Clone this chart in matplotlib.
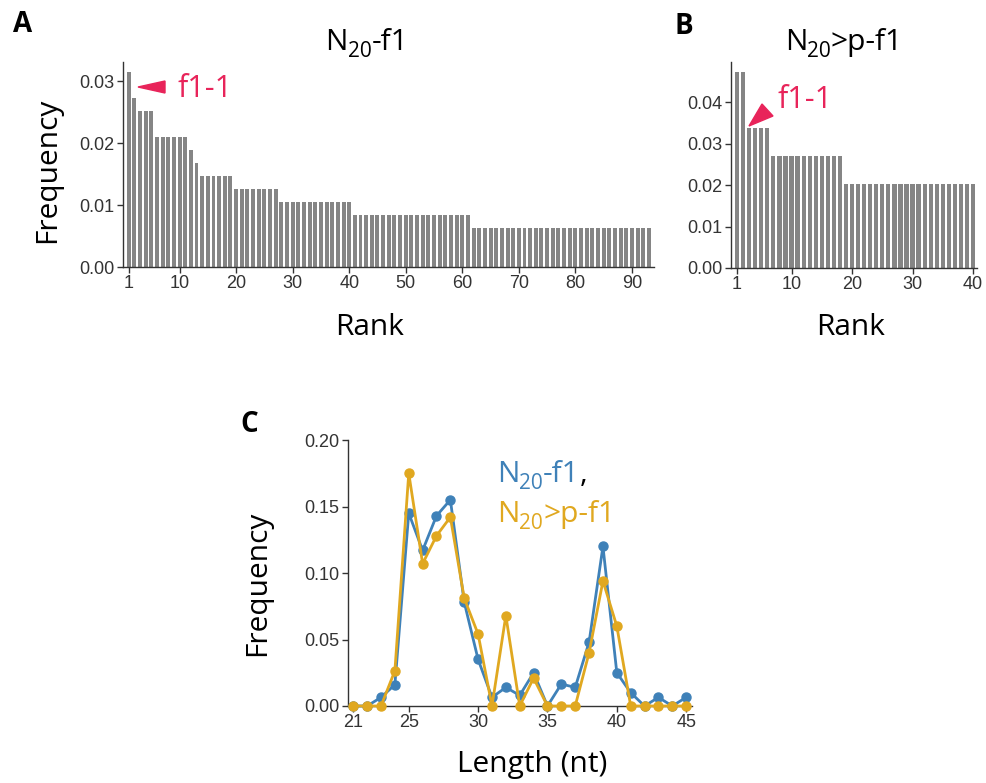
import matplotlib
matplotlib.use("Agg")
import matplotlib.pyplot as plt
from matplotlib.patches import Polygon
import numpy as np

# ---------------- data ----------------
# Panel A: N20-f1 rank-frequency (93 sequences)
rank_a_counts = [15, 13] + [12] * 3 + [10] * 6 + [9, 8] + [7] * 6 + [6] * 8 + [5] * 13 + [4] * 21 + [3] * 32
freq_a = [c / 476 for c in rank_a_counts]
rank_a = list(range(1, len(freq_a) + 1))
xticks_a = [1, 10, 20, 30, 40, 50, 60, 70, 80, 90]
yticks_a = [0.00, 0.01, 0.02, 0.03]

# Panel B: N20>p-f1 rank-frequency (40 sequences)
rank_b_counts = [7] * 2 + [5] * 4 + [4] * 12 + [3] * 22
freq_b = [c / 148 for c in rank_b_counts]
rank_b = list(range(1, len(freq_b) + 1))
xticks_b = [1, 10, 20, 30, 40]
yticks_b = [0.00, 0.01, 0.02, 0.03, 0.04]

# Panel C: length distribution
length_nt = list(range(21, 46))
freq_len_f1 = [0, 0, 0.0065, 0.016, 0.145, 0.117, 0.143, 0.155, 0.078, 0.035,
               0.0065, 0.014, 0.008, 0.025, 0, 0.0165, 0.014, 0.048, 0.120, 0.025,
               0.010, 0, 0.0065, 0, 0.0065]
freq_len_pf1 = [0, 0, 0, 0.0265, 0.175, 0.107, 0.128, 0.142, 0.081, 0.054,
                0, 0.068, 0, 0.021, 0, 0, 0, 0.040, 0.094, 0.060,
                0, 0, 0, 0, 0]
xticks_c = [21, 25, 30, 35, 40, 45]
yticks_c = [0.00, 0.05, 0.10, 0.15, 0.20]

# ---------------- style ----------------
W, H = 986, 783
BAR = "#858585"
BLUE = "#3F81B8"
GOLD = "#E0A820"
RED = "#E8245A"
TICKC = "#333333"
TICKFONT = "Liberation Sans"
LABFONT = "Open Sans"
BIG = 21.5
SUB = 15

plt.rcParams["font.family"] = [TICKFONT, "DejaVu Sans"]

fig = plt.figure(figsize=(W / 100, H / 100), dpi=100)
renderer = fig.canvas.get_renderer()


def px(x, y):
    return x / W, 1 - y / H


def style_ax(ax):
    for s in ("top", "right"):
        ax.spines[s].set_visible(False)
    for s in ("left", "bottom"):
        ax.spines[s].set_color(TICKC)
        ax.spines[s].set_linewidth(1.0)
    ax.tick_params(direction="out", length=4, width=1, color=TICKC,
                   labelcolor=TICKC, labelsize=13, pad=2)


def add_axes(l, t, r, b):
    x0, y1 = px(l, t)
    x1, y0 = px(r, b)
    return fig.add_axes([x0, y0, x1 - x0, y1 - y0])


# ---- Panel A ----
axA = add_axes(123, 62, 654, 267)
axA.bar(rank_a, freq_a, width=0.7, color=BAR)
axA.set_xlim(0, 93.9)
axA.set_ylim(0, max(freq_a) * 1.05)
axA.set_xticks(xticks_a)
axA.set_yticks(yticks_a)
axA.set_yticklabels([f"{v:.2f}" for v in yticks_a])
style_ax(axA)

# ---- Panel B ----
axB = add_axes(731, 62, 977, 268)
axB.bar(rank_b, freq_b, width=0.7, color=BAR)
axB.set_xlim(0, 40.65)
axB.set_ylim(0, max(freq_b) * 1.05)
axB.set_xticks(xticks_b)
axB.set_yticks(yticks_b)
axB.set_yticklabels([f"{v:.2f}" for v in yticks_b])
style_ax(axB)

# ---- Panel C ----
axC = add_axes(348, 440, 692, 706)
axC.plot(length_nt, freq_len_f1, "-o", color=BLUE, lw=2, ms=6.5, clip_on=False, zorder=3)
axC.plot(length_nt, freq_len_pf1, "-o", color=GOLD, lw=2, ms=6.5, clip_on=False, zorder=4)
axC.set_xlim(20.62, 45.42)
axC.set_ylim(0, 0.20)
axC.set_xticks(xticks_c)
axC.set_yticks(yticks_c)
axC.set_yticklabels([f"{v:.2f}" for v in yticks_c])
style_ax(axC)


# ---- texts ----
def ftext(x, y, s, **kw):
    fx, fy = px(x, y)
    return fig.text(fx, fy, s, **kw)


def compose(x, y, parts, ha="left"):
    """parts: list of (text, fontsize, dy_px, color). y is baseline in px from top."""
    objs = []
    widths = []
    for s, fs, dy, col in parts:
        t = fig.text(0, 0, s, fontsize=fs, family=LABFONT, color=col, va="baseline")
        w = t.get_window_extent(renderer).width
        objs.append((t, dy))
        widths.append(w)
    total = sum(widths)
    cx = x - total / 2 if ha == "center" else x
    for (t, dy), w in zip(objs, widths):
        t.set_position(px(cx, y + dy))
        cx += w


ftext(23, 25, "A", fontsize=20, fontweight="bold", family=LABFONT, ha="center", va="center")
ftext(684, 26, "B", fontsize=20, fontweight="bold", family=LABFONT, ha="center", va="center")
ftext(249, 425, "C", fontsize=20, fontweight="bold", family=LABFONT, ha="center", va="center")

compose(367, 50, [("N", BIG, 0, "black"), ("20", SUB, 7, "black"), ("-f1", BIG, 0, "black")], ha="center")
compose(844, 50, [("N", BIG, 0, "black"), ("20", SUB, 7, "black"), (">p-f1", BIG, 0, "black")], ha="center")

ftext(370, 335, "Rank", fontsize=BIG, family=LABFONT, ha="center", va="baseline")
ftext(851, 335, "Rank", fontsize=BIG, family=LABFONT, ha="center", va="baseline")
ftext(532, 772, "Length (nt)", fontsize=BIG, family=LABFONT, ha="center", va="baseline")

ftext(48, 170, "Frequency", fontsize=BIG, family=LABFONT, ha="center", va="center", rotation=90)
ftext(258, 583, "Frequency", fontsize=BIG, family=LABFONT, ha="center", va="center", rotation=90)

# legend-like text in C
compose(497, 482, [("N", BIG, 0, BLUE), ("20", SUB, 7, BLUE), ("-f1", BIG, 0, BLUE), (",", BIG, 0, "black")])
compose(497, 522, [("N", BIG, 0, GOLD), ("20", SUB, 7, GOLD), (">p-f1", BIG, 0, GOLD)])

# annotations f1-1
ftext(177, 97, "f1-1", fontsize=22, family=LABFONT, color=RED, va="baseline")
triA = [px(138, 87), px(165, 81), px(165, 93)]
fig.patches.append(Polygon(triA, closed=True, transform=fig.transFigure, color=RED, figure=fig))

ftext(777, 108, "f1-1", fontsize=22, family=LABFONT, color=RED, va="baseline")
triB = [px(749, 126), px(762, 104), px(773, 116)]
fig.patches.append(Polygon(triB, closed=True, transform=fig.transFigure, color=RED, figure=fig))

fig.savefig("out.png", dpi=100)
